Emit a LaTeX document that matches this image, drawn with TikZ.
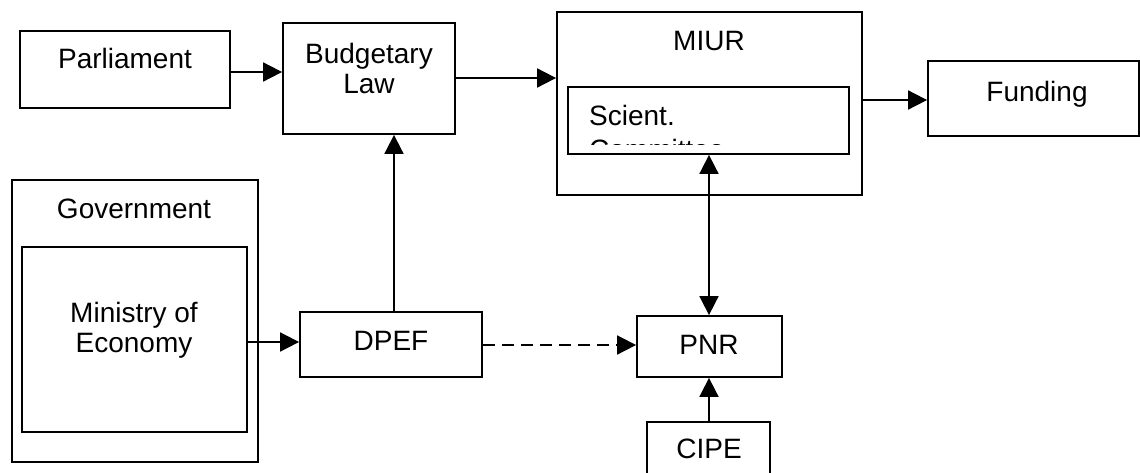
\documentclass[tikz,border=0pt]{standalone}
\usepackage{fontspec}
\setmainfont{Liberation Sans}
\usetikzlibrary{arrows.meta}
\begin{document}
\begin{tikzpicture}[x=1pt,y=-1pt,
  box/.style={draw,line width=1.8pt,inner sep=0pt,rectangle},
  lbl/.style={inner sep=0pt,anchor=base,font=\fontsize{28}{32}\selectfont},
  arr/.style={line width=1.8pt,-{Triangle[length=19pt,width=19pt]}},
  darr/.style={line width=1.8pt,{Triangle[length=19pt,width=19pt]}-{Triangle[length=19pt,width=19pt]}},
  dsh/.style={arr,dash pattern=on 12pt off 7pt}]
\useasboundingbox (0,0) rectangle (1140,472);
% boxes
\node[box,minimum width=210,minimum height=77] (parl) at (125,69.5) {};
\node[box,minimum width=172,minimum height=111] (budget) at (369,78.5) {};
\node[box,minimum width=305,minimum height=183] (miur) at (709.5,103.5) {};
\node[box,minimum width=281,minimum height=67] (sci) at (708.5,120.5) {};
\node[box,minimum width=211,minimum height=75] (fund) at (1033.5,98.5) {};
\node[box,minimum width=246,minimum height=282] (gov) at (135,321) {};
\node[box,minimum width=225,minimum height=185] (min) at (134.5,339.5) {};
\node[box,minimum width=182,minimum height=65] (dpef) at (391,344.5) {};
\node[box,minimum width=145,minimum height=61] (pnr) at (709.5,346.5) {};
\node[box,minimum width=123,minimum height=60] (cipe) at (708.5,452) {};
% labels
\node[lbl] (tparl) at (125,68) {Parliament};
\node[lbl] (tbud1) at (369,63) {Budgetary};
\node[lbl] (tbud2) at (369,93) {Law};
\node[lbl] (tmiur) at (709,50) {MIUR};
\begin{scope}
\clip (568,87) rectangle (849,144);
\node[lbl,anchor=base west] (tsci1) at (589,125) {Scient.};
\node[lbl,anchor=base west] (tsci2) at (589,159) {Committee};
\end{scope}
\node[lbl] (tfund) at (1037,101) {Funding};
\node[lbl] (tgov) at (134,218) {Government};
\node[lbl] (tmin1) at (134,322) {Ministry of};
\node[lbl] (tmin2) at (134,352) {Economy};
\node[lbl] (tdpef) at (391,350) {DPEF};
\node[lbl] (tpnr) at (709,354) {PNR};
\node[lbl] (tcipe) at (709,458) {CIPE};
% connectors
\draw[arr] (parl.east |- 0,72) -- (budget.west |- 0,72);
\draw[arr] (budget.east |- 0,78) -- (miur.west |- 0,78);
\draw[arr] (miur.east |- 0,100) -- (fund.west |- 0,100);
\draw[arr] (min.east |- 0,342) -- (dpef.west |- 0,342);
\draw[arr] (dpef.north -| 394,0) -- (budget.south -| 394,0);
\draw[dsh] (dpef.east |- 0,345) -- (pnr.west |- 0,345);
\draw[darr] (sci.south -| 709,0) -- (pnr.north -| 709,0);
\draw[arr] (cipe.north -| 709,0) -- (pnr.south -| 709,0);
\end{tikzpicture}
\end{document}
